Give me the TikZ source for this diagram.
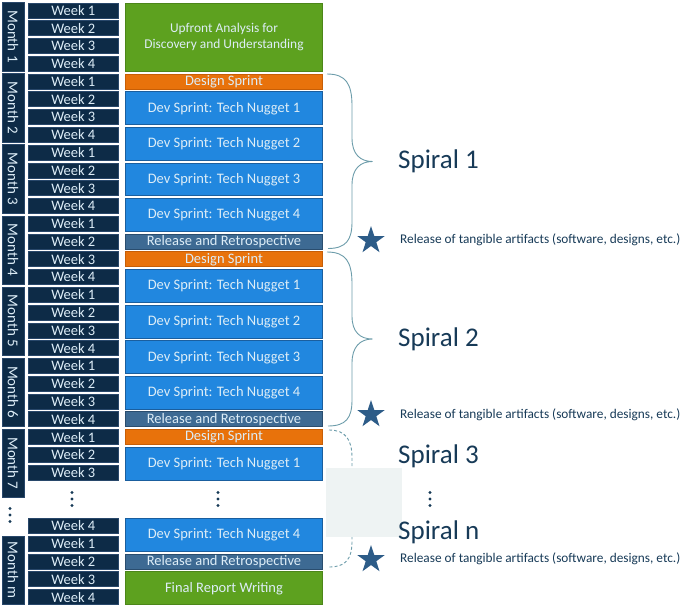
\documentclass[tikz,border=0pt]{standalone}
\usepackage{fontspec}
\setmainfont{Carlito}
\usetikzlibrary{shapes.geometric}
\definecolor{navy}{HTML}{0D2B47}
\definecolor{navyline}{HTML}{28476A}
\definecolor{boxtext}{HTML}{DDEDF7}
\definecolor{gfill}{HTML}{5DA11F}
\definecolor{gline}{HTML}{4C8619}
\definecolor{ofill}{HTML}{E8720B}
\definecolor{oline}{HTML}{C75E06}
\definecolor{bfill}{HTML}{2187DF}
\definecolor{bline}{HTML}{1A5E9E}
\definecolor{rfill}{HTML}{3D6A93}
\definecolor{rline}{HTML}{2A4D6E}
\definecolor{spiraltext}{HTML}{173A57}
\definecolor{starc}{HTML}{2D5C88}
\definecolor{bracec}{HTML}{6C9CAA}
\definecolor{patch}{HTML}{EEF3F3}
\tikzset{
  wk/.style={draw=navyline, line width=0.6pt, fill=navy, text=boxtext, minimum width=90pt, minimum height=15pt, inner sep=0pt, anchor=north west, font=\fontsize{14.5}{14.5}\selectfont},
  mon/.style={draw=navyline, line width=0.6pt, fill=navy, text=boxtext, minimum height=22pt, inner sep=0pt, rotate=-90, font=\fontsize{15}{15}\selectfont},
  rb/.style={line width=1pt, text=boxtext, minimum width=197pt, inner sep=0pt, anchor=north west, font=\fontsize{14.5}{14.5}\selectfont},
  gbox/.style={rb, fill=gfill, draw=gline},
  obox/.style={rb, fill=ofill, draw=oline},
  bbox/.style={rb, fill=bfill, draw=bline},
  rbox/.style={rb, fill=rfill, draw=rline},
  spiral/.style={anchor=west, text=spiraltext, inner sep=0pt, font=\fontsize{27}{27}\selectfont},
  reltext/.style={anchor=west, text=spiraltext, inner sep=0pt, font=\fontsize{13.3}{13.3}\selectfont},
  starn/.style={star, star points=5, star point ratio=2.618, fill=starc, draw=none, minimum size=29pt, inner sep=0pt},
  bracel/.style={draw=bracec, line width=0.9pt},
  dotc/.style={fill=spiraltext, draw=none},
}
\begin{document}
\begin{tikzpicture}[x=1pt,y=-1pt]
\useasboundingbox (0,0) rectangle (685,605);
% weeks
\foreach \r/\w [evaluate=\r as \y using 2.5+17.78*\r] in {0/1,1/2,2/3,3/4,4/1,5/2,6/3,7/4,8/1,9/2,10/3,11/4,12/1,13/2,14/3,15/4,16/1,17/2,18/3,19/4,20/1,21/2,22/3,23/4,24/1,25/2,26/3,29/4,30/1,31/2,32/3,33/4}
  \node[wk] (w\r) at (28,\y) {Week \w};
% months
\foreach \r/\m/\n [evaluate=\r as \y using 2.5+17.78*\r+(17.78*\n-2.78)/2, evaluate=\n as \h using 17.78*\n-2.78] in {0/1/4,4/2/4,8/3/4,12/4/4,16/5/4,20/6/4,24/7/4,30/m/4}
  \node[mon, minimum width=\h pt] (m\r) at (13,\y) {Month \m};
% right column
\foreach \r/\n/\s/\t [evaluate=\r as \y using 2.5+17.78*\r, evaluate=\n as \h using 17.78*\n-2.78] in {
  4/1/obox/{Design Sprint},
  5/2/bbox/{Dev Sprint: Tech Nugget 1},
  7/2/bbox/{Dev Sprint: Tech Nugget 2},
  9/2/bbox/{Dev Sprint: Tech Nugget 3},
  11/2/bbox/{Dev Sprint: Tech Nugget 4},
  13/1/rbox/{Release and Retrospective},
  14/1/obox/{Design Sprint},
  15/2/bbox/{Dev Sprint: Tech Nugget 1},
  17/2/bbox/{Dev Sprint: Tech Nugget 2},
  19/2/bbox/{Dev Sprint: Tech Nugget 3},
  21/2/bbox/{Dev Sprint: Tech Nugget 4},
  23/1/rbox/{Release and Retrospective},
  24/1/obox/{Design Sprint},
  25/2/bbox/{Dev Sprint: Tech Nugget 1},
  29/2/bbox/{Dev Sprint: Tech Nugget 4},
  31/1/rbox/{Release and Retrospective},
  32/2/gbox/{Final Report Writing}}
  \node[\s, minimum height=\h pt] (b\r) at (125,\y) {\t};
\node[gbox, minimum height=68.3pt, align=center, font=\fontsize{13.4}{15.5}\selectfont] (b0) at (125,2.5) {Upfront Analysis for\\Discovery and Understanding};
% vertical dots
\foreach \x/\yc in {72/499, 218/499, 10/515, 430/499}
  \foreach \d in {-6.5,0,6.5}
    \fill[dotc] (\x,\yc+\d) circle (1.6);
% braces
\draw[bracel] (327,74) .. controls (346,74) and (352,84) .. (352,106) -- (352,138) .. controls (352,154) and (360,161.5) .. (372.5,161.5) .. controls (360,161.5) and (352,169) .. (352,185) -- (352,222) .. controls (352,240) and (346,248.5) .. (328,248.5);
\draw[bracel] (327,252) .. controls (346,252) and (352,262) .. (352,284) -- (352,316) .. controls (352,332) and (360,339) .. (372.5,339) .. controls (360,339) and (352,347) .. (352,363) -- (352,400) .. controls (352,418) and (346,426) .. (328,426);
\draw[bracel, dash pattern=on 3pt off 2.2pt] (329,430) .. controls (346,430) and (352,440) .. (352,458) -- (352,480) .. controls (352,492) and (360,498.5) .. (372.5,498.5) .. controls (360,498.5) and (352,505) .. (352,517) -- (352,541) .. controls (352,559) and (346,567) .. (329,567);
\fill[patch] (326,468) rectangle (402,537);
% spiral labels
\node[spiral] (sp1) at (398,161) {Spiral 1};
\node[spiral] (sp2) at (398,339) {Spiral 2};
\node[spiral] (sp3) at (398,456) {Spiral 3};
\node[spiral] (spn) at (398,532) {Spiral n};
% stars and release texts
\node[starn] (st1) at (371,240.5) {};
\node[starn] (st2) at (371,414.5) {};
\node[starn] (st3) at (371,559.5) {};
\node[reltext] (r1) at (400,240) {Release of tangible artifacts (software, designs, etc.)};
\node[reltext] (r2) at (400,415) {Release of tangible artifacts (software, designs, etc.)};
\node[reltext] (r3) at (400,559) {Release of tangible artifacts (software, designs, etc.)};
\end{tikzpicture}
\end{document}
